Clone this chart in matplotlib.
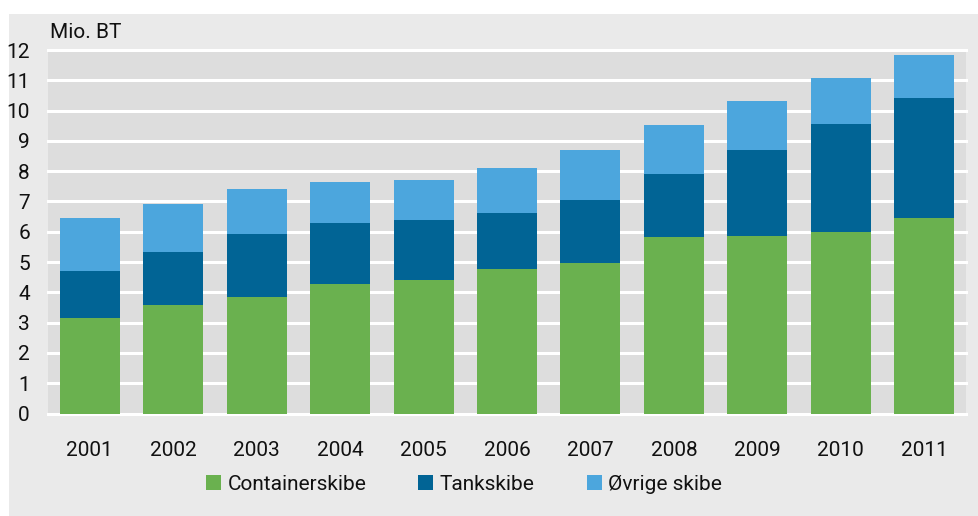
import matplotlib
matplotlib.use("Agg")
import matplotlib.pyplot as plt
from matplotlib.patches import Rectangle, Patch
import numpy as np

plt.rcParams['font.family'] = ['Roboto', 'DejaVu Sans']

years = ['2001', '2002', '2003', '2004', '2005', '2006', '2007', '2008', '2009', '2010', '2011']
# cumulative readings off the picture split into the three parts
container = [3.15, 3.58, 3.84, 4.27, 4.40, 4.77, 4.97, 5.83, 5.86, 5.99, 6.46]
tank = [1.55, 1.75, 2.09, 2.02, 1.99, 1.85, 2.08, 2.08, 2.85, 3.58, 3.97]
oevrige = [1.76, 1.59, 1.49, 1.36, 1.33, 1.49, 1.66, 1.63, 1.62, 1.52, 1.42]

series_names = ['Containerskibe', 'Tankskibe', 'Øvrige skibe']
colors = ['#6AB14F', '#016495', '#4CA6DD']

W, H = 979, 516
fig = plt.figure(figsize=(W / 100, H / 100), dpi=100)
fig.patch.set_facecolor('white')
fig.patches.append(Rectangle((9 / W, 0), 1 - 9 / W, (H - 14) / H, transform=fig.transFigure,
                             facecolor='#EAEAEA', edgecolor='none', zorder=-10))

ax = fig.add_axes([48 / W, (H - 413.5) / H, (966 - 48) / W, (413.5 - 50) / H])
ax.set_facecolor('#DDDDDD')

x = np.arange(len(years))
bottom = np.zeros(len(years))
for vals, col in zip([container, tank, oevrige], colors):
    ax.bar(x, vals, width=0.72, bottom=bottom, color=col, zorder=3)
    bottom += np.array(vals)

ax.set_xlim(-0.5, len(years) - 0.5)
ax.set_ylim(0, 12)
ax.set_yticks(range(0, 13))
ax.set_xticks(x)
ax.set_xticklabels(years)
for yv in range(0, 13):
    ax.axhline(yv, color='white', lw=2.2, zorder=1, clip_on=False)

for s in ax.spines.values():
    s.set_visible(False)
ax.tick_params(axis='both', length=0, labelsize=15, colors='#111111')
ax.tick_params(axis='y', pad=13)
ax.tick_params(axis='x', pad=20)

fig.text(50 / W, 1 - 33 / H, 'Mio. BT', fontsize=15, color='#111111', va='center', ha='left')

handles = [Patch(facecolor=c, edgecolor='none') for c in colors]
fig.legend(handles, series_names, loc='center', bbox_to_anchor=(464 / W, 1 - 484 / H),
           ncol=3, frameon=False, fontsize=15, handlelength=0.72, handleheight=0.72,
           handletextpad=0.3, columnspacing=2.5, labelcolor='#111111')

fig.savefig('out.png', dpi=100, facecolor=fig.get_facecolor())
